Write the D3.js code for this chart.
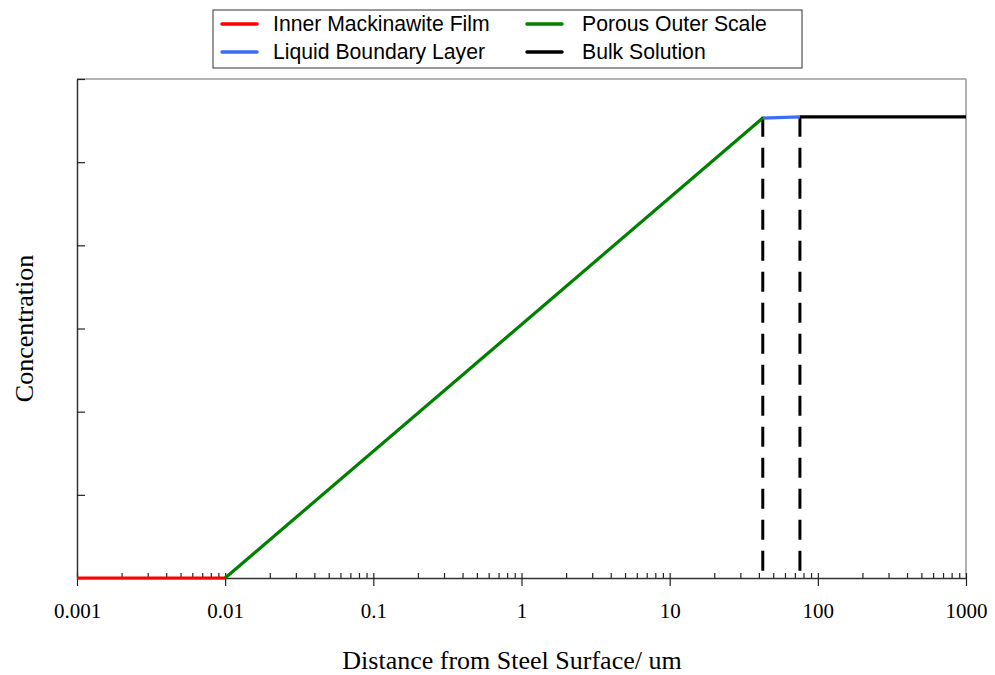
<!DOCTYPE html>
<html>
<head>
<meta charset="utf-8">
<script src="https://cdn.jsdelivr.net/npm/d3@7"></script>
<style>
  body { margin: 0; background: #fff; }
  svg { display: block; }
  .tick-label { font-family: "Liberation Serif", "Times New Roman", serif; font-size: 21px; fill: #000; }
  .axis-title { font-family: "Liberation Serif", "Times New Roman", serif; font-size: 26px; fill: #000; }
  .legend-text { font-family: "Liberation Sans", Arial, sans-serif; font-size: 21.2px; fill: #000; }
</style>
</head>
<body>
<div class="chart-wrapper"></div>
<script>
// series data (distance in um, concentration in arbitrary units)
const filmX = [0.001, 0.01]
const filmY = [0, 0]
const scaleX = [0.01, 42.5]
const scaleY = [0, 5.53]
const boundaryX = [42.5, 75.7]
const boundaryY = [5.53, 5.545]
const bulkX = [75.7, 1000]
const bulkY = [5.545, 5.545]
const interfaces = [42.5, 75.7]

const xTickValues = [0.001, 0.01, 0.1, 1, 10, 100, 1000]
const xTickLabels = ['0.001', '0.01', '0.1', '1', '10', '100', '1000']
const yTickValues = [0, 1, 2, 3, 4, 5, 6]

const seriesNames = ['Inner Mackinawite Film', 'Liquid Boundary Layer', 'Porous Outer Scale', 'Bulk Solution']
const seriesColors = ['#ff0000', '#3d6cf7', '#008000', '#000000']

const width = 995, height = 675
const margin = {top: 79, right: 29, bottom: 97, left: 77}

let svg = d3.select('.chart-wrapper')
  .append('svg')
  .attr('width', width)
  .attr('height', height)

let x = d3.scaleLog().domain([0.001, 1000]).range([margin.left, width - margin.right])
let y = d3.scaleLinear().domain([0, 6]).range([height - margin.bottom, margin.top])

// frame: top and right in grey
svg.append('line')
  .attr('x1', x(0.001)).attr('x2', x(1000))
  .attr('y1', y(6)).attr('y2', y(6))
  .attr('stroke', '#999').attr('stroke-width', 1.5)
svg.append('line')
  .attr('x1', x(1000)).attr('x2', x(1000))
  .attr('y1', y(6)).attr('y2', y(0))
  .attr('stroke', '#999').attr('stroke-width', 1.5)

// minor x ticks, pointing inward
let minor = []
for (let e = -3; e < 3; e++) {
  for (let k = 2; k <= 9; k++) minor.push(k * Math.pow(10, e))
}
svg.append('g')
  .attr('transform', 'translate(0,' + y(0) + ')')
  .call(d3.axisTop(x).tickValues(minor).tickSize(5).tickFormat(''))
  .call(g => g.select('.domain').remove())
  .selectAll('line').attr('stroke', '#222').attr('stroke-width', 1.2)

// major x ticks crossing the axis
let xaxis = svg.append('g')
  .attr('transform', 'translate(0,' + y(0) + ')')
  .call(d3.axisBottom(x).tickValues(xTickValues).tickSizeInner(8).tickSizeOuter(0)
    .tickFormat((d, i) => xTickLabels[i]).tickPadding(17))
xaxis.select('.domain').attr('stroke', '#333').attr('stroke-width', 1.5)
xaxis.selectAll('.tick line').attr('y1', -5).attr('stroke', '#222').attr('stroke-width', 1.2)
xaxis.selectAll('.tick text').attr('class', 'tick-label').attr('font-size', null).attr('font-family', null)

// y axis, ticks inward, no labels
let yaxis = svg.append('g')
  .attr('transform', 'translate(' + x(0.001) + ',0)')
  .call(d3.axisRight(y).tickValues(yTickValues).tickSizeInner(8).tickSizeOuter(0).tickFormat(''))
yaxis.select('.domain').attr('stroke', '#333').attr('stroke-width', 1.5)
yaxis.selectAll('.tick line').attr('stroke', '#222').attr('stroke-width', 1.2)

// dashed interface markers
svg.selectAll('.interface')
  .data(interfaces)
  .enter().append('line')
  .attr('class', 'interface')
  .attr('x1', d => x(d)).attr('x2', d => x(d))
  .attr('y1', y(bulkY[0])).attr('y2', y(0))
  .attr('stroke', '#000').attr('stroke-width', 3)
  .attr('stroke-dasharray', '20,11')

let line = d3.line()
  .x(d => x(d[0]))
  .y(d => y(d[1]))

let series = [
  {name: seriesNames[0], color: seriesColors[0], xs: filmX, ys: filmY},
  {name: seriesNames[1], color: seriesColors[1], xs: boundaryX, ys: boundaryY},
  {name: seriesNames[2], color: seriesColors[2], xs: scaleX, ys: scaleY},
  {name: seriesNames[3], color: seriesColors[3], xs: bulkX, ys: bulkY}
]

series.forEach(s => {
  svg.append('path')
    .datum(s.xs.map((v, i) => [v, s.ys[i]]))
    .attr('fill', 'none')
    .attr('stroke', s.color)
    .attr('stroke-width', 3.2)
    .attr('d', line)
})

// axis titles
svg.append('text')
  .attr('class', 'axis-title')
  .attr('x', 512)
  .attr('y', 669)
  .attr('text-anchor', 'middle')
  .text('Distance from Steel Surface/ um')

svg.append('text')
  .attr('class', 'axis-title')
  .attr('transform', 'translate(33,' + (y(0) + y(6)) / 2 + ') rotate(-90)')
  .attr('text-anchor', 'middle')
  .text('Concentration')

// legend
let legend = svg.append('g').attr('transform', 'translate(213,10)')
legend.append('rect')
  .attr('width', 589).attr('height', 58)
  .attr('fill', '#fff').attr('stroke', '#333').attr('stroke-width', 1)

let items = legend.selectAll('.item')
  .data(series)
  .enter().append('g')
  .attr('transform', (d, i) => 'translate(' + (i < 2 ? 9 : 314) + ',' + (i % 2 === 0 ? 14 : 42) + ')')
items.append('line')
  .attr('x1', 0).attr('x2', 35)
  .attr('stroke', d => d.color).attr('stroke-width', 3.5)
  .attr('stroke-linecap', 'round')
items.append('text')
  .attr('class', 'legend-text')
  .attr('x', (d, i) => i < 2 ? 51 : 55).attr('y', 7)
  .text(d => d.name)
</script>
</body>
</html>
